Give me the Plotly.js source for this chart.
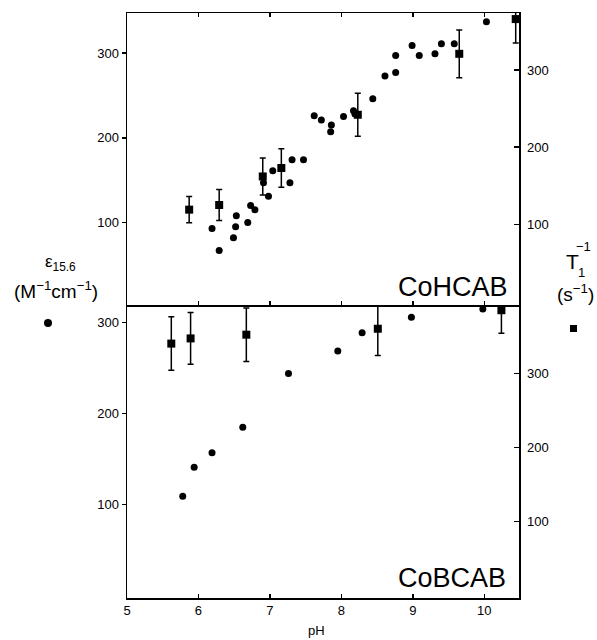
<!DOCTYPE html>
<html>
<head>
<meta charset="utf-8">
<script src="https://cdn.plot.ly/plotly-3.0.1.min.js"></script>
<style>
html,body{margin:0;padding:0;background:#fff;}
#chart{width:597px;height:640px;}
</style>
</head>
<body>
<div id="chart"></div>
<script>
// ---- data ----
// CoHCAB (top panel)
var hcabEpsPH = [6.19, 6.29, 6.49, 6.52, 6.53, 6.69, 6.73, 6.79, 6.91, 6.98, 7.04, 7.28, 7.31, 7.47, 7.62, 7.72, 7.85, 7.86, 8.03, 8.17, 8.19, 8.44, 8.61, 8.76, 8.76, 8.99, 9.09, 9.31, 9.40, 9.58, 10.03];
var hcabEps   = [93, 67, 82, 95, 108, 100, 120, 115, 147, 131, 161, 147, 174, 174, 226, 221, 207, 215, 225, 232, 228, 246, 273, 277, 297, 309, 297, 299, 311, 311, 337];
var hcabT1PH  = [5.87, 6.29, 6.90, 7.16, 8.23, 9.65, 10.44];
var hcabT1    = [119, 125, 162, 173, 242, 321, 366];
var hcabT1Err = [17, 20, 24, 25, 28, 31, 31];
// CoBCAB (bottom panel)
var bcabEpsPH = [5.78, 5.94, 6.19, 6.62, 7.26, 7.95, 8.29, 8.98, 9.98];
var bcabEps   = [109, 141, 157, 185, 244, 269, 289, 306, 315];
var bcabT1PH  = [5.62, 5.89, 6.67, 8.51, 10.24];
var bcabT1    = [340, 347, 352, 360, 385];
var bcabT1Err = [36, 35, 36, 36, 31];
// tick labels
var xTicks = [5, 6, 7, 8, 9, 10];
var yTicks = [100, 200, 300];

// ---- layout helpers (pixel -> paper) ----
var L = 127, R = 519, T = 13, B = 598, W = 597, H = 640;
function px(x){ return (x - L) / (R - L); }
function py(y){ return (B - y) / (B - T); }

var FONT = 'Liberation Sans, Arial, sans-serif';
var black = '#000';

var circ = {symbol:'circle', size:7, color:black};
var sq = {symbol:'square', size:8, color:black};
var eb = function(arr){ return {type:'data', array:arr, visible:true, color:black, thickness:1.5, width:3}; };

var traces = [
  {x:hcabEpsPH, y:hcabEps, xaxis:'x2', yaxis:'y3', mode:'markers', marker:circ, type:'scatter'},
  {x:hcabT1PH, y:hcabT1, xaxis:'x2', yaxis:'y4', mode:'markers', marker:sq, error_y:eb(hcabT1Err), type:'scatter'},
  {x:bcabEpsPH, y:bcabEps, xaxis:'x', yaxis:'y', mode:'markers', marker:circ, type:'scatter'},
  {x:bcabT1PH, y:bcabT1, xaxis:'x', yaxis:'y2', mode:'markers', marker:sq, error_y:eb(bcabT1Err), type:'scatter'}
];

var split = py(305);
var xr = [5, 10.486];
var tickFont = {family:FONT, size:13, color:black};

function ann(x, y, text, size, anchor){
  return {xref:'paper', yref:'paper', x:px(x), y:py(y), text:text, showarrow:false,
          xanchor:anchor || 'center', yanchor:'middle', font:{family:FONT, size:size, color:black}};
}

var layout = {
  width:W, height:H,
  margin:{l:L, r:W-R, t:T, b:H-B, pad:0},
  paper_bgcolor:'#fff', plot_bgcolor:'#fff',
  showlegend:false,
  font:{family:FONT, color:black},
  xaxis:{domain:[0,1], anchor:'y', range:xr, tickvals:xTicks, ticktext:xTicks.map(String),
         ticks:'inside', ticklen:4, tickwidth:1.5, tickcolor:black, showline:true, linecolor:black, linewidth:1.5,
         showgrid:false, zeroline:false, tickfont:tickFont},
  yaxis:{domain:[0,split], anchor:'x', range:[-2.9,319.5], tickvals:yTicks, ticks:'outside', ticklen:4, tickwidth:1.5,
         tickcolor:black, showline:true, linecolor:black, linewidth:1.5, showgrid:false, zeroline:false, tickfont:tickFont},
  yaxis2:{overlaying:'y', side:'right', anchor:'x', range:[-2.8,392], tickvals:yTicks, ticks:'inside', ticklen:5, tickwidth:1.5,
         tickcolor:black, showline:true, linecolor:black, linewidth:1.5, showgrid:false, zeroline:false, tickfont:tickFont,
         ticklabelstandoff:4},
  xaxis2:{domain:[0,1], anchor:'y3', range:xr, tickvals:xTicks, showticklabels:false,
         ticks:'inside', ticklen:4, tickwidth:1.5, tickcolor:black, showline:true, mirror:'ticks', linecolor:black, linewidth:1.5,
         showgrid:false, zeroline:false},
  yaxis3:{domain:[split,1], anchor:'x2', range:[2.7,347.2], tickvals:yTicks, ticks:'outside', ticklen:4, tickwidth:1.5,
         tickcolor:black, showline:true, linecolor:black, linewidth:1.5, showgrid:false, zeroline:false, tickfont:tickFont},
  yaxis4:{overlaying:'y3', side:'right', anchor:'x2', range:[-4.6,373.9], tickvals:yTicks, ticks:'inside', ticklen:5, tickwidth:1.5,
         tickcolor:black, showline:true, linecolor:black, linewidth:1.5, showgrid:false, zeroline:false, tickfont:tickFont,
         ticklabelstandoff:4},
  shapes:[
    {type:'circle', xref:'paper', yref:'paper', x0:px(44), x1:px(52), y0:py(327), y1:py(319),
     fillcolor:black, line:{width:0}},
    {type:'rect', xref:'paper', yref:'paper', x0:px(570), x1:px(577), y0:py(332), y1:py(325),
     fillcolor:black, line:{width:0}}
  ],
  annotations:[
    ann(510, 287, 'CoHCAB', 27, 'right'),
    ann(508, 578, 'CoBCAB', 27, 'right'),
    ann(316, 630, 'pH', 13),
    ann(60, 263, '\u03b5<sub>15.6</sub>', 17),
    ann(56, 290, '(M<sup>\u22121</sup>cm<sup>\u22121</sup>)', 19),
    ann(572, 261, 'T', 21),
    ann(583, 246, '\u22121', 13),
    ann(581, 272, '1', 13),
    ann(575, 293, '(s<sup>\u22121</sup>)', 19)
  ]
};

Plotly.newPlot('chart', traces, layout, {staticPlot:true, displayModeBar:false});
</script>
</body>
</html>
